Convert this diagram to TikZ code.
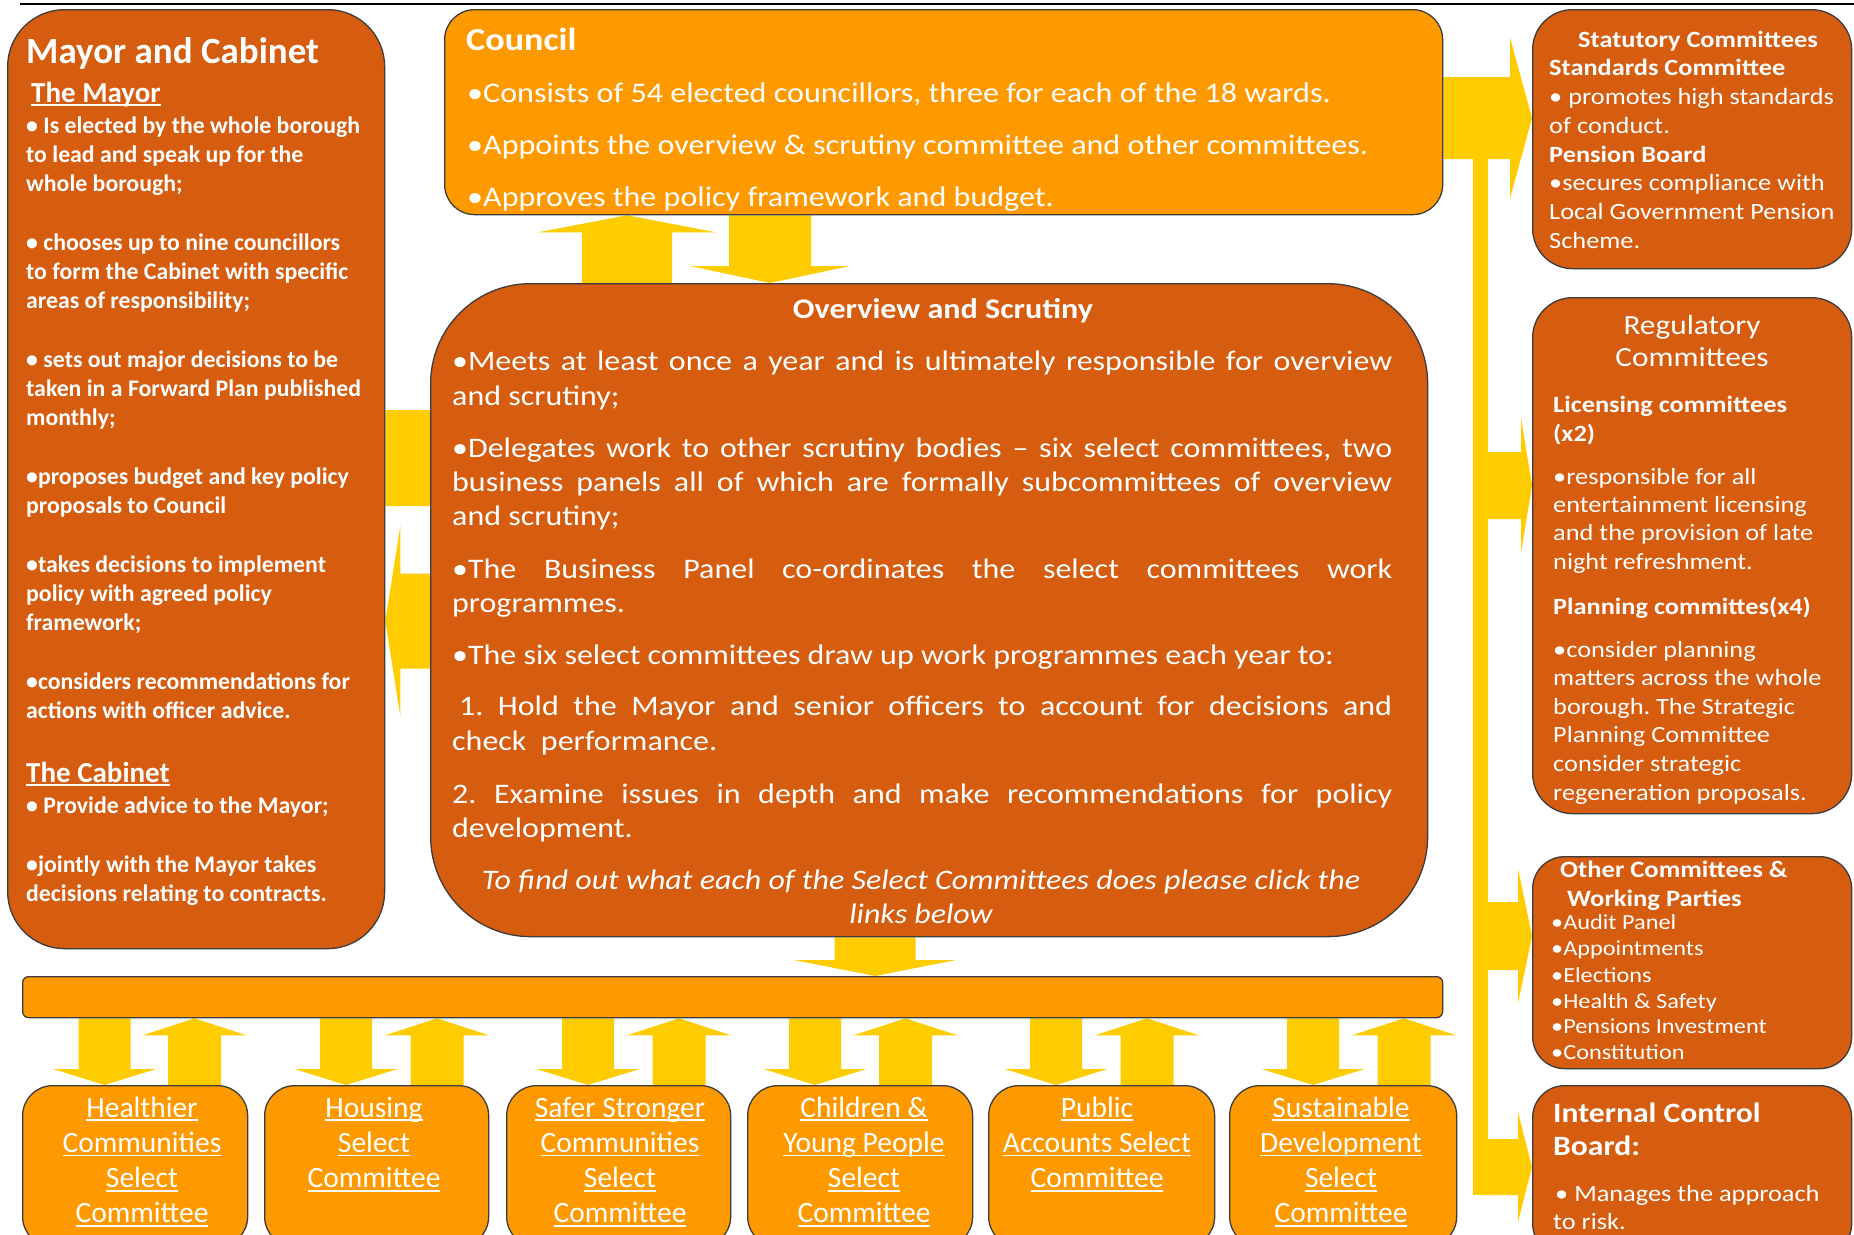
\documentclass[tikz,border=0pt]{standalone}
\usepackage{fontspec}
\setmainfont{Carlito}
\newfontfamily\wfont[FakeStretch=1.13]{Carlito}
\usetikzlibrary{calc}
\frenchspacing

\definecolor{darkor}{RGB}{214,92,16}
\definecolor{lightor}{RGB}{255,153,0}
\definecolor{yel}{RGB}{255,204,0}
\definecolor{edge}{RGB}{60,60,60}

\pgfdeclarelayer{bg}
\pgfdeclarelayer{arrows}
\pgfsetlayers{bg,arrows,main}

% underline set close to the baseline, crossing descenders
\newcommand\ulin[1]{\setbox0\hbox{#1}\rlap{\rule[-0.14em]{\wd0}{0.065em}}\box0}

% block arrow: #1 start, #2 tip, #3 half shaft width, #4 half head width, #5 head length
\newcommand\blockarrow[5]{%
  \coordinate (ba-s) at #1;
  \coordinate (ba-t) at #2;
  \coordinate (ba-b) at ($(ba-t)!#5!(ba-s)$);
  \fill[arrowfill] ($(ba-s)!#3!90:(ba-t)$) -- ($(ba-b)!#3!-90:(ba-s)$)
    -- ($(ba-b)!#4!-90:(ba-s)$) -- (ba-t) -- ($(ba-b)!#4!90:(ba-s)$)
    -- ($(ba-b)!#3!90:(ba-s)$) -- ($(ba-s)!#3!-90:(ba-t)$) -- cycle;
}

\tikzset{
  box/.style={draw=edge, line width=1.3pt, inner sep=0pt, anchor=north west},
  darkbox/.style={box, fill=darkor},
  lightbox/.style={box, fill=lightor},
  arrowfill/.style={fill=yel},
  txt/.style={text=white, inner sep=0pt, anchor=base west},
  maytext/.style={txt, font=\fontsize{23.8}{29}\selectfont\bfseries},
  counciltext/.style={txt, font=\wfont\fontsize{28.4}{34}\selectfont},
  ovtext/.style={txt, font=\wfont\fontsize{28.3}{34}\selectfont},
  sidetext/.style={txt, font=\wfont\fontsize{23.3}{28}\selectfont},
  sidehead/.style={txt, font=\wfont\fontsize{23.3}{28}\selectfont\bfseries},
  linktext/.style={txt, anchor=base, font=\fontsize{29.5}{35}\selectfont},
}

\begin{document}
\begin{tikzpicture}[x=1pt,y=-1pt]
\useasboundingbox (0,0) rectangle (1854,1234);
\clip (0,0) rectangle (1854,1234);
\begin{pgfonlayer}{bg}
  \fill[white] (0,0) rectangle (1854,1234);
\end{pgfonlayer}

% top rule
\draw[line width=2.2pt] (20,4) -- (1854,4);

% ---------- boxes ----------
\node[darkbox, rounded corners=57pt, minimum width=377, minimum height=939] (mayor) at (7,9) {};
\node[lightbox, rounded corners=30pt, minimum width=998, minimum height=205] (council) at (444,9) {};
\node[darkbox, rounded corners=100pt, minimum width=997, minimum height=653] (ov) at (430,283) {};
\node[lightbox, rounded corners=6pt, minimum width=1420, minimum height=41] (bar) at (22,976) {};

\node[darkbox, rounded corners=40pt, minimum width=319, minimum height=259] (stat) at (1532,9) {};
\node[darkbox, rounded corners=40pt, minimum width=319, minimum height=516] (reg) at (1532,297) {};
\node[darkbox, rounded corners=32pt, minimum width=319, minimum height=212] (oth) at (1532,856) {};
\node[darkbox, rounded corners=32pt, minimum width=319, minimum height=170] (intb) at (1532,1085) {};

\foreach \nm/\xl/\bw in {hc/22/225, ho/264/224, ss/506/224, cy/747/225, pa/988/226, sd/1229/227}
  \node[lightbox, rounded corners=30pt, minimum width=\bw, minimum height=161] (\nm) at (\xl,1085) {};

% ---------- connectors ----------
\begin{pgfonlayer}{arrows}
  \blockarrow{(council.east |- 0,118)}{(stat.west |- 0,118)}{41pt}{80.5pt}{22pt}
  \coordinate (stemtop) at (1480.5,118);
  \coordinate (stembot) at (1480.5,1195);
  \draw[draw=yel, line width=15pt] (stemtop) -- (stembot);
  \blockarrow{(stemtop |- 0,485.5)}{(reg.west |- 0,485.5)}{33.5pt}{67.5pt}{11pt}
  \blockarrow{(stemtop |- 0,936)}{(oth.west |- 0,936)}{34pt}{67.5pt}{14pt}
  \blockarrow{(stemtop |- 0,1167)}{(intb.west |- 0,1167)}{28pt}{55pt}{14pt}

  \blockarrow{(council.south -| 770,0)}{(ov.north -| 770,0)}{41pt}{80pt}{17pt}
  \blockarrow{(ov.north -| 627,0)}{(council.south -| 627,0)}{45pt}{89pt}{17pt}

  \blockarrow{(mayor.east |- 0,458)}{($(ov.west |- 0,458)+(20,0)$)}{48pt}{93pt}{19pt}
  \blockarrow{(ov.west |- 0,621)}{(mayor.east |- 0,621)}{47.5pt}{95pt}{15pt}

  \blockarrow{(ov.south -| 875,0)}{(bar.north -| 875,0)}{40.5pt}{81pt}{16pt}

  \foreach \nm/\dx/\ux in {hc/104.5/194.5, ho/346/437, ss/588/679, cy/815/905.5, pa/1056/1147, sd/1313/1404}{
    \blockarrow{(bar.south -| \dx,0)}{(\nm.north -| \dx,0)}{26pt}{51.5pt}{16pt}
    \blockarrow{(\nm.north -| \ux,0)}{(bar.south -| \ux,0)}{26.5pt}{52pt}{17pt}
  }
\end{pgfonlayer}

% ---------- Mayor and Cabinet ----------
\node[txt, font=\fontsize{37}{40}\selectfont\bfseries] (maytitle) at (26,63) {Mayor and Cabinet};
\node[txt, font=\fontsize{29}{33}\selectfont\bfseries] (mayhead) at (31,102) {\ulin{The Mayor}};
\foreach \yy/\mytext [count=\i] in {
  133/{• Is elected by the whole borough},
  162/{to lead and speak up for the},
  191/{whole borough;},
  250/{• chooses up to nine councillors},
  279/{to form the Cabinet with specific},
  308/{areas of responsibility;},
  367/{• sets out major decisions to be},
  396/{taken in a Forward Plan published},
  425/{monthly;},
  484/{•proposes budget and key policy},
  513/{proposals to Council},
  572/{•takes decisions to implement},
  601/{policy with agreed policy},
  630/{framework;},
  689/{•considers recommendations for},
  718/{actions with officer advice.}}
  \node[maytext] (may\i) at (26,\yy) {\mytext};
\node[txt, font=\fontsize{29}{33}\selectfont\bfseries] (cabhead) at (26,782) {\ulin{The Cabinet}};
\foreach \yy/\mytext [count=\i] in {
  813/{• Provide advice to the Mayor;},
  872/{•jointly with the Mayor takes},
  901/{decisions relating to contracts.}}
  \node[maytext] (cab\i) at (26,\yy) {\mytext};

% ---------- Council ----------
\node[txt, font=\wfont\fontsize{32}{36}\selectfont\bfseries] (counciltitle) at (466,50) {Council};
\node[counciltext] (council1) at (467,102) {•Consists of 54 elected councillors, three for each of the 18 wards.};
\node[counciltext] (council2) at (467,154) {•Appoints the overview \& scrutiny committee and other committees.};
\node[counciltext] (council3) at (467,206) {•Approves the policy framework and budget.};

% ---------- Overview and Scrutiny ----------
\node[txt, anchor=base, font=\wfont\fontsize{28.4}{34}\selectfont\bfseries] (ovtitle) at (943,318) {Overview and Scrutiny};
\node[ovtext] (ov1) at (452,370) {\makebox[940pt][s]{•Meets at least once a year and is ultimately responsible for overview}};
\node[ovtext] (ov2) at (452,405) {and scrutiny;};
\node[ovtext] (ov3) at (452,457) {\makebox[940pt][s]{•Delegates work to other scrutiny bodies – six select committees, two}};
\node[ovtext] (ov4) at (452,491) {\makebox[940pt][s]{business panels all of which are formally subcommittees of overview}};
\node[ovtext] (ov5) at (452,525) {and scrutiny;};
\node[ovtext] (ov6) at (452,578) {\makebox[940pt][s]{•The Business Panel co-ordinates the select committees work}};
\node[ovtext] (ov7) at (452,612) {programmes.};
\node[ovtext] (ov8) at (452,664) {•The six select committees draw up work programmes each year to:};
\node[ovtext] (ov9) at (459,715) {\makebox[933pt][s]{1. Hold the Mayor and senior officers to account for decisions and}};
\node[ovtext] (ov10) at (452,750) {check\ \ performance.};
\node[ovtext] (ov11) at (452,803) {\makebox[940pt][s]{2. Examine issues in depth and make recommendations for policy}};
\node[ovtext] (ov12) at (452,837) {development.};
\node[ovtext, anchor=base, font=\wfont\fontsize{28.3}{34}\selectfont\itshape] (ov13) at (921,889) {To find out what each of the Select Committees does please click the};
\node[ovtext, anchor=base, font=\wfont\fontsize{28.3}{34}\selectfont\itshape] (ov14) at (921,923) {links below};

% ---------- Statutory Committees ----------
\node[sidehead] (st1) at (1578,47) {Statutory Committees};
\node[sidehead] (st2) at (1549,75) {Standards Committee};
\node[sidetext] (st3) at (1549,104) {• promotes high standards};
\node[sidetext] (st4) at (1549,133) {of conduct.};
\node[sidehead] (st5) at (1549,162) {Pension Board};
\node[sidetext] (st6) at (1549,190) {•secures compliance with};
\node[sidetext] (st7) at (1549,219) {Local Government Pension};
\node[sidetext] (st8) at (1549,248) {Scheme.};

% ---------- Regulatory Committees ----------
\node[txt, anchor=base, font=\wfont\fontsize{27.7}{32}\selectfont] (rg1) at (1692,334) {Regulatory};
\node[txt, anchor=base, font=\wfont\fontsize{27.7}{32}\selectfont] (rg2) at (1692,366) {Committees};
\node[sidehead] (rg3) at (1553,412) {Licensing committees};
\node[sidehead] (rg4) at (1553,441) {(x2)};
\node[sidetext] (rg5) at (1553,484) {•responsible for all};
\node[sidetext] (rg6) at (1553,512) {entertainment licensing};
\node[sidetext] (rg7) at (1553,540) {and the provision of late};
\node[sidetext] (rg8) at (1553,569) {night refreshment.};
\node[sidehead] (rg9) at (1553,614) {Planning committes(x4)};
\node[sidetext] (rg10) at (1553,657) {•consider planning};
\node[sidetext] (rg11) at (1553,685) {matters across the whole};
\node[sidetext] (rg12) at (1553,714) {borough. The Strategic};
\node[sidetext] (rg13) at (1553,742) {Planning Committee};
\node[sidetext] (rg14) at (1553,771) {consider strategic};
\node[sidetext] (rg15) at (1553,800) {regeneration proposals.};

% ---------- Other Committees ----------
\node[txt, font=\wfont\fontsize{23.5}{28}\selectfont\bfseries] (oc1) at (1560,877) {Other Committees \&};
\node[txt, font=\wfont\fontsize{23.5}{28}\selectfont\bfseries] (oc2) at (1567,906) {Working Parties};
\foreach \yy/\mytext [count=\i] in {929/{•Audit Panel}, 955/{•Appointments}, 982/{•Elections},
  1008/{•Health \& Safety}, 1033/{•Pensions Investment}, 1059/{•Constitution}}
  \node[txt, font=\wfont\fontsize{21.5}{26}\selectfont] (ocl\i) at (1551,\yy) {\mytext};

% ---------- Internal Control Board ----------
\node[txt, font=\wfont\fontsize{28}{33}\selectfont\bfseries] (ib1) at (1553,1122) {Internal Control};
\node[txt, font=\wfont\fontsize{28}{33}\selectfont\bfseries] (ib2) at (1553,1155) {Board:};
\node[sidetext] (ib3) at (1555,1201) {• Manages the approach};
\node[sidetext] (ib4) at (1553,1229) {to risk.};

% ---------- select committee links ----------
\foreach \nm/\cx/\lines in {
  hc/142/{Healthier,Communities,Select,Committee},
  ho/374/{Housing,Select,Committee},
  ss/620/{Safer Stronger,Communities,Select,Committee},
  cy/864/{Children \&,Young People,Select,Committee},
  pa/1097/{Public,Accounts Select,Committee},
  sd/1341/{Sustainable,Development,Select,Committee}}{
  \foreach \lline [count=\j] in \lines
    \node[linktext] (\nm-t\j) at (\cx,{1081.7+35.3*\j}) {\ulin{\lline}};
}
\end{tikzpicture}
\end{document}
